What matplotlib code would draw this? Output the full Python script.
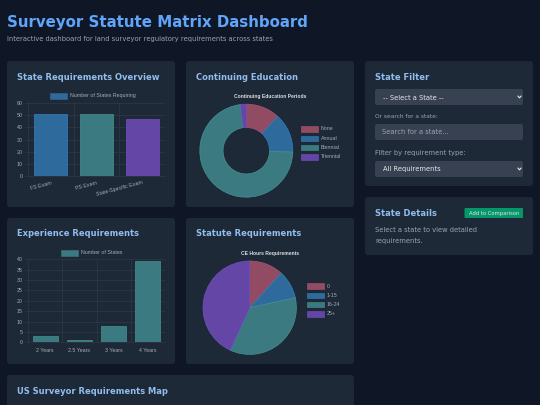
import matplotlib
matplotlib.use("Agg")
import matplotlib.pyplot as plt
from matplotlib.patches import FancyBboxPatch, Rectangle

W, H = 540, 405

# ---- data ----
overview_labels = ["FS Exam", "PS Exam", "State-Specific Exam"]
overview_values = [51, 51, 47]
experience_labels = ["2 Years", "2.5 Years", "3 Years", "4 Years"]
experience_values = [3, 1, 8, 39]
ce_labels = ["None", "Annual", "Biennial", "Triennial"]
ce_values = [6, 7, 37, 1]
hours_labels = ["0", "1-15", "16-24", "25+"]
hours_values = [6, 5, 18, 22]

# ---- colours ----
BG = "#0f1726"
CARD = "#1e2937"
HEAD = "#90bdee"
TITLE = "#60a5fa"
MUTED = "#9ca3af"
CHART_TXT = "#a4abb5"
FIELD = "#374151"
GRID = "#2f3a48"
RED, BLUE, TEAL, PURPLE = "#914b63", "#2e6a9b", "#3b7a80", "#6346a6"
RED_E, BLUE_E, TEAL_E, PURPLE_E = "#a9546f", "#3480bd", "#45938f", "#7150c0"

SANS = ["DejaVu Sans"]
CHART_FONT = ["Liberation Sans"]
CHART_SIZE = 3.75
HEAD_SIZE = 6.0
BODY_SIZE = 4.85

fig = plt.figure(figsize=(W / 100, H / 100), dpi=100, facecolor=BG)
bg = fig.add_axes([0, 0, 1, 1])
bg.set_xlim(0, W)
bg.set_ylim(H, 0)
bg.axis("off")


def card(x0, y0, x1, y1, color=CARD, r=3, **kw):
    bg.add_patch(FancyBboxPatch((x0 + r, y0 + r), x1 - x0 - 2 * r, y1 - y0 - 2 * r,
                                boxstyle=f"round,pad={r},rounding_size={r}",
                                fc=color, ec="none", **kw))


def sub_axes(x0, y0, x1, y1):
    ax = fig.add_axes([x0 / W, 1 - y1 / H, (x1 - x0) / W, (y1 - y0) / H])
    ax.patch.set_alpha(0)
    return ax


def label(x, y, s, size=BODY_SIZE, color=MUTED, weight="normal", ha="left", family=SANS):
    bg.text(x, y, s, fontsize=size, color=color, fontweight=weight, ha=ha, va="center", family=family)


def bar_chart(box, labels, values, colors, edges, ymax, step, width, legend_text, legend_color,
              legend_xy, rotation=0):
    ax = sub_axes(*box)
    pos = list(range(len(values)))
    ax.bar(pos, values, width=width, color=colors, edgecolor=edges, linewidth=0.5, zorder=3,
           label=legend_text)
    ax.set_xlim(-0.5, len(values) - 0.5)
    ax.set_ylim(0, ymax)
    ax.set_yticks(range(0, ymax + 1, step))
    ax.set_xticks(pos)
    if rotation:
        ax.set_xticklabels(labels, rotation=rotation, ha="right", rotation_mode="anchor",
                           family=CHART_FONT)
        ax.tick_params(axis="x", pad=3)
    else:
        ax.set_xticklabels(labels, family=CHART_FONT)
        ax.tick_params(axis="x", pad=4)
    for t in ax.get_yticklabels():
        t.set_family(CHART_FONT)
    ax.tick_params(axis="both", labelsize=CHART_SIZE, labelcolor=CHART_TXT, length=0)
    ax.tick_params(axis="y", length=2.2, width=0.5, color=GRID, pad=1.5)
    for b in pos[:-1]:
        ax.axvline(b + 0.5, color=GRID, lw=0.5, zorder=1)
    ax.axvline(-0.5, color=GRID, lw=0.5, zorder=1)
    ax.grid(axis="y", color=GRID, lw=0.5, zorder=1)
    for s in ax.spines.values():
        s.set_visible(False)
    ax.spines["bottom"].set_visible(True)
    ax.spines["bottom"].set_color(GRID)
    ax.spines["bottom"].set_linewidth(0.5)
    lx, ly = legend_xy
    bg.add_patch(Rectangle((lx, ly - 2.8), 17, 5.5, fc=legend_color, ec=legend_color, lw=0.4))
    label(lx + 20, ly, legend_text, size=CHART_SIZE, color=CHART_TXT, family=CHART_FONT)
    return ax


def round_chart(cx, cy, r, values, labels, hole, title, title_x, title_y, leg_x, leg_y, leg_dy):
    ax = sub_axes(cx - r, cy - r, cx + r, cy + r)
    wedge = dict(linewidth=0.5)
    if hole:
        wedge["width"] = 1 - hole
    patches, _ = ax.pie(values, colors=[RED, BLUE, TEAL, PURPLE], startangle=90, counterclock=False,
                        radius=1, wedgeprops=wedge)
    for p, e in zip(patches, [RED_E, BLUE_E, TEAL_E, PURPLE_E]):
        p.set_edgecolor(e)
    ax.set_xlim(-1, 1)
    ax.set_ylim(-1, 1)
    label(title_x, title_y, title, size=3.6, color="#d8dce2", weight="bold", ha="center", family=CHART_FONT)
    for i, (s, c, e) in enumerate(zip(labels, [RED, BLUE, TEAL, PURPLE], [RED_E, BLUE_E, TEAL_E, PURPLE_E])):
        y = leg_y + i * leg_dy
        bg.add_patch(Rectangle((leg_x, y - 2.8), 17, 5.5, fc=c, ec=e, lw=0.4))
        label(leg_x + 20, y, s, size=CHART_SIZE, color=CHART_TXT, family=CHART_FONT)


# ---- cards ----
card(7, 61, 175, 207)
card(186, 61, 354, 207)
card(365, 61, 533, 186)
card(365, 197, 533, 255)
card(7, 218, 175, 364)
card(186, 218, 354, 364)
card(7, 375, 354, 412)

# ---- header ----
label(7, 22.5, "Surveyor Statute Matrix Dashboard", size=10.8, color=TITLE, weight="bold")
label(7, 39, "Interactive dashboard for land surveyor regulatory requirements across states", size=4.87, color=MUTED)

# ---- card headings ----
label(17, 77, "State Requirements Overview", size=HEAD_SIZE, color=HEAD, weight="bold")
label(196, 77, "Continuing Education", size=HEAD_SIZE, color=HEAD, weight="bold")
label(375, 77, "State Filter", size=HEAD_SIZE, color=HEAD, weight="bold")
label(375, 213, "State Details", size=HEAD_SIZE, color=HEAD, weight="bold")
label(17, 234, "Experience Requirements", size=HEAD_SIZE, color=HEAD, weight="bold")
label(196, 234, "Statute Requirements", size=HEAD_SIZE, color=HEAD, weight="bold")
label(17, 391, "US Surveyor Requirements Map", size=HEAD_SIZE, color=HEAD, weight="bold")

# ---- charts ----
bar_chart((28, 103, 165, 176), overview_labels, overview_values, [BLUE, TEAL, PURPLE],
          [BLUE_E, TEAL_E, PURPLE_E], 60, 10, 0.72, "Number of States Requiring", BLUE, (50, 96), rotation=15)
round_chart(246.3, 150.7, 46.5, ce_values, ce_labels, 0.5, "Continuing Education Periods",
            270, 96.5, 301, 129, 9.33)
bar_chart((28, 259.3, 165, 342.3), experience_labels, experience_values, [TEAL] * 4,
          [TEAL_E] * 4, 40, 5, 0.73, "Number of States", TEAL, (61, 253))
round_chart(249.7, 307.7, 46.7, hours_values, hours_labels, 0, "CE Hours Requirements",
            270, 253.5, 307, 286, 9.33)

# ---- filter controls ----
card(375, 89, 523, 105, color=FIELD, r=2)
label(383, 97.5, "-- Select a State --", color="#e5e7eb")
label(375, 116, "Or search for a state:", size=4.25, color=MUTED)
card(375, 124, 523, 140, color=FIELD, r=2)
label(382, 132.5, "Search for a state...", color=MUTED)
label(375, 152.5, "Filter by requirement type:", color=MUTED)
card(375, 161, 523, 177, color=FIELD, r=2)
label(383, 169, "All Requirements", color="#e5e7eb")
for yc in (97, 169):
    bg.plot([518, 519.5, 521], [yc - 0.9, yc + 0.9, yc - 0.9], color="#e5e7eb", lw=0.8)

card(464.5, 208, 523, 218, color="#059669", r=1)
label(493.7, 213, "Add to Comparison", size=3.75, color="#e5e7eb", ha="center")
label(375, 230.5, "Select a state to view detailed", color=MUTED)
label(375, 240.5, "requirements.", color=MUTED)

fig.savefig("out.png", dpi=100, facecolor=BG)
